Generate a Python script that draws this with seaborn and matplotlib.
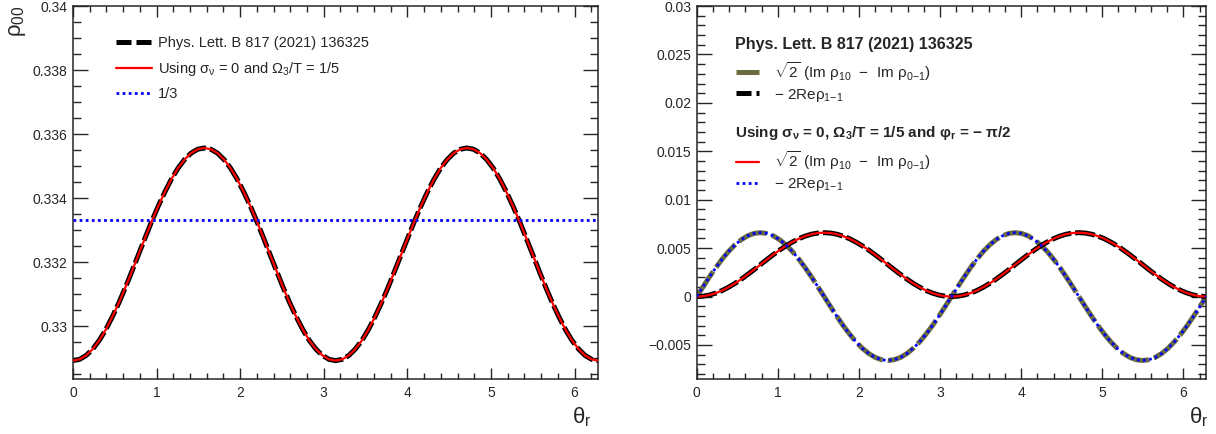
import matplotlib
matplotlib.use('Agg')
import matplotlib.pyplot as plt
import seaborn as sns
from matplotlib.lines import Line2D
from matplotlib.ticker import MultipleLocator, FuncFormatter

# valores (theta em passos de pi/40)
theta = [0.000, 0.079, 0.157, 0.236, 0.314, 0.393, 0.471, 0.550, 0.628, 0.707,
         0.785, 0.864, 0.942, 1.021, 1.100, 1.178, 1.257, 1.335, 1.414, 1.492,
         1.571, 1.649, 1.728, 1.806, 1.885, 1.963, 2.042, 2.121, 2.199, 2.278,
         2.356, 2.435, 2.513, 2.592, 2.670, 2.749, 2.827, 2.906, 2.985, 3.063,
         3.142, 3.220, 3.299, 3.377, 3.456, 3.534, 3.613, 3.691, 3.770, 3.848,
         3.927, 4.006, 4.084, 4.163, 4.241, 4.320, 4.398, 4.477, 4.555, 4.634,
         4.712, 4.791, 4.869, 4.948, 5.027, 5.105, 5.184, 5.262, 5.341, 5.419,
         5.498, 5.576, 5.655, 5.733, 5.812, 5.890, 5.969, 6.048, 6.126, 6.205,
         6.283]

# painel esquerdo: rho_00
rho00_paper = [0.32893, 0.32897, 0.32909, 0.32929, 0.32956, 0.32990, 0.33030, 0.33074, 0.33122, 0.33173,
               0.33225, 0.33277, 0.33328, 0.33376, 0.33420, 0.33460, 0.33494, 0.33521, 0.33541, 0.33553,
               0.33557, 0.33553, 0.33541, 0.33521, 0.33494, 0.33460, 0.33420, 0.33376, 0.33328, 0.33277,
               0.33225, 0.33173, 0.33122, 0.33074, 0.33030, 0.32990, 0.32956, 0.32929, 0.32909, 0.32897,
               0.32893, 0.32897, 0.32909, 0.32929, 0.32956, 0.32990, 0.33030, 0.33074, 0.33122, 0.33173,
               0.33225, 0.33277, 0.33328, 0.33376, 0.33420, 0.33460, 0.33494, 0.33521, 0.33541, 0.33553,
               0.33557, 0.33553, 0.33541, 0.33521, 0.33494, 0.33460, 0.33420, 0.33376, 0.33328, 0.33277,
               0.33225, 0.33173, 0.33122, 0.33074, 0.33030, 0.32990, 0.32956, 0.32929, 0.32909, 0.32897,
               0.32893]
rho00_calc = list(rho00_paper)
one_third = [1 / 3] * len(theta)

# painel direito
im_paper = [0.0, 0.00103, 0.00204, 0.00300, 0.00388, 0.00467, 0.00534, 0.00588, 0.00628, 0.00652,
            0.0066, 0.00652, 0.00628, 0.00588, 0.00534, 0.00467, 0.00388, 0.00300, 0.00204, 0.00103,
            0.0, -0.00103, -0.00204, -0.00300, -0.00388, -0.00467, -0.00534, -0.00588, -0.00628, -0.00652,
            -0.0066, -0.00652, -0.00628, -0.00588, -0.00534, -0.00467, -0.00388, -0.00300, -0.00204, -0.00103,
            0.0, 0.00103, 0.00204, 0.00300, 0.00388, 0.00467, 0.00534, 0.00588, 0.00628, 0.00652,
            0.0066, 0.00652, 0.00628, 0.00588, 0.00534, 0.00467, 0.00388, 0.00300, 0.00204, 0.00103,
            0.0, -0.00103, -0.00204, -0.00300, -0.00388, -0.00467, -0.00534, -0.00588, -0.00628, -0.00652,
            -0.0066, -0.00652, -0.00628, -0.00588, -0.00534, -0.00467, -0.00388, -0.00300, -0.00204, -0.00103,
            0.0]
re_paper = [0.0, 0.00004, 0.00016, 0.00036, 0.00063, 0.00097, 0.00136, 0.00180, 0.00228, 0.00278,
            0.0033, 0.00382, 0.00432, 0.00480, 0.00524, 0.00563, 0.00597, 0.00624, 0.00644, 0.00656,
            0.0066, 0.00656, 0.00644, 0.00624, 0.00597, 0.00563, 0.00524, 0.00480, 0.00432, 0.00382,
            0.0033, 0.00278, 0.00228, 0.00180, 0.00136, 0.00097, 0.00063, 0.00036, 0.00016, 0.00004,
            0.0, 0.00004, 0.00016, 0.00036, 0.00063, 0.00097, 0.00136, 0.00180, 0.00228, 0.00278,
            0.0033, 0.00382, 0.00432, 0.00480, 0.00524, 0.00563, 0.00597, 0.00624, 0.00644, 0.00656,
            0.0066, 0.00656, 0.00644, 0.00624, 0.00597, 0.00563, 0.00524, 0.00480, 0.00432, 0.00382,
            0.0033, 0.00278, 0.00228, 0.00180, 0.00136, 0.00097, 0.00063, 0.00036, 0.00016, 0.00004,
            0.0]
im_calc = list(re_paper)
re_calc = list(im_paper)

sns.set_style('ticks')
plt.rcParams['font.family'] = ['Liberation Sans', 'DejaVu Sans']
plt.rcParams['mathtext.fontset'] = 'custom'
plt.rcParams['mathtext.rm'] = 'Liberation Sans'
plt.rcParams['mathtext.it'] = 'Liberation Sans:italic'
plt.rcParams['mathtext.bf'] = 'Liberation Sans:bold'
plt.rcParams['mathtext.default'] = 'regular'
plt.rcParams['axes.linewidth'] = 1.1

fig = plt.figure(figsize=(12.16, 4.34), dpi=100)
ax1 = fig.add_axes([0.060, 0.127, 0.432, 0.859])
ax2 = fig.add_axes([0.573, 0.127, 0.419, 0.859])

olive = '#6b6b40'
dash_blk = (0, (4, 0.8))
dot = (0, (1, 1.2))


def fmt(v, pos):
    s = '%g' % round(v, 6)
    return s.replace('-', '\u2212')


# painel esquerdo
sns.lineplot(x=theta, y=rho00_paper, ax=ax1, color='black', lw=3.6, linestyle=dash_blk, zorder=2)
sns.lineplot(x=theta, y=rho00_calc, ax=ax1, color='red', lw=1.6, zorder=3)
sns.lineplot(x=theta, y=one_third, ax=ax1, color='blue', lw=2.0, linestyle=dot, zorder=4)
ax1.set_ylim(0.32836, 0.34)
ax1.yaxis.set_major_locator(MultipleLocator(0.002))
ax1.yaxis.set_minor_locator(MultipleLocator(0.0005))

# painel direito
sns.lineplot(x=theta, y=im_paper, ax=ax2, color=olive, lw=3.6, linestyle=(0, (6, 1)), zorder=2)
sns.lineplot(x=theta, y=re_paper, ax=ax2, color='black', lw=3.6, linestyle=dash_blk, zorder=2)
sns.lineplot(x=theta, y=im_calc, ax=ax2, color='red', lw=1.6, zorder=3)
sns.lineplot(x=theta, y=re_calc, ax=ax2, color='blue', lw=2.0, linestyle=dot, zorder=4)
ax2.set_ylim(-0.0085, 0.03)
ax2.yaxis.set_major_locator(MultipleLocator(0.005))
ax2.yaxis.set_minor_locator(MultipleLocator(0.001))

for ax in (ax1, ax2):
    ax.set_xlim(0, 6.2832)
    ax.xaxis.set_major_locator(MultipleLocator(1))
    ax.xaxis.set_minor_locator(MultipleLocator(0.2))
    ax.xaxis.set_major_formatter(FuncFormatter(fmt))
    ax.yaxis.set_major_formatter(FuncFormatter(fmt))
    ax.tick_params(which='both', direction='in', top=True, right=True, labelsize=10, width=1.0)
    ax.tick_params(axis='x', which='major', length=8, pad=5)
    ax.tick_params(axis='x', which='minor', length=4)
    ax.tick_params(axis='y', which='major', length=11, pad=4)
    ax.tick_params(axis='y', which='minor', length=6)
    ax.set_xlabel('')
    ax.set_ylabel('')

fig.text(0.014, 0.988, '\u03c1$_{00}$', rotation=90, ha='center', va='top', fontsize=16)
fig.text(0.486, 0.012, '\u03b8$_{r}$', ha='right', va='bottom', fontsize=16)
fig.text(0.994, 0.012, '\u03b8$_{r}$', ha='right', va='bottom', fontsize=16)

# legenda esquerda
h_left = [Line2D([], [], color='black', lw=3.6, linestyle=(0, (3, 1))),
          Line2D([], [], color='red', lw=1.6),
          Line2D([], [], color='blue', lw=2.0, linestyle=dot)]
lab_left = ['Phys. Lett. B 817 (2021) 136325',
            'Using \u03c3$_{\\nu}$ = 0 and \u03a9$_{3}$/T = 1/5',
            '1/3']
ax1.legend(h_left, lab_left, loc='upper left', bbox_to_anchor=(0.07, 0.935), frameon=False,
           fontsize=10.5, handlelength=2.5, handletextpad=0.4, labelspacing=0.65, borderaxespad=0)

# legenda direita
ax2.text(0.075, 0.898, 'Phys. Lett. B 817 (2021) 136325', transform=ax2.transAxes,
         fontsize=11.5, fontweight='bold', va='center', ha='left')
ax2.text(0.075, 0.660, 'Using \u03c3$_{\\nu}$ = 0, \u03a9$_{\\mathbf{3}}$/T = 1/5 and \u03c6$_{\\mathbf{r}}$ = \u2212 \u03c0/2',
         transform=ax2.transAxes, fontsize=11, fontweight='bold', va='center', ha='left')

lab_im = r'$\sqrt{2}$ (Im ' + '\u03c1$_{10}$  $-$  Im \u03c1$_{0{-}1}$)'
lab_re = '$-$ 2Re\u03c1$_{1{-}1}$'
h_r1 = [Line2D([], [], color=olive, lw=3.6, linestyle=(0, (5, 1))),
        Line2D([], [], color='black', lw=3.6, linestyle=(0, (3, 1)))]
h_r2 = [Line2D([], [], color='red', lw=1.6),
        Line2D([], [], color='blue', lw=2.0, linestyle=dot)]
leg1 = ax2.legend(h_r1, [lab_im, lab_re], loc='upper left', bbox_to_anchor=(0.065, 0.872),
                  frameon=False, fontsize=11, handlelength=1.5, handletextpad=1.0,
                  labelspacing=0.25, borderaxespad=0)
ax2.add_artist(leg1)
ax2.legend(h_r2, [lab_im, lab_re], loc='upper left', bbox_to_anchor=(0.065, 0.632),
           frameon=False, fontsize=11, handlelength=1.5, handletextpad=1.0,
           labelspacing=0.25, borderaxespad=0)

fig.savefig('out.png', dpi=100)
